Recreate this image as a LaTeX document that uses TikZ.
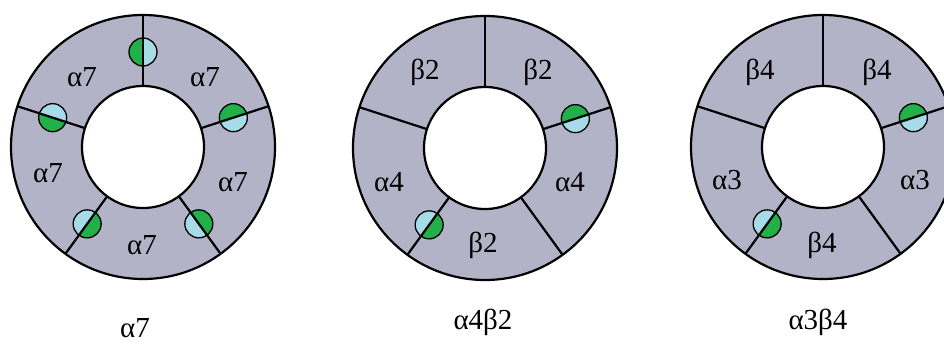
\documentclass[tikz,border=0pt]{standalone}
\usepackage{fontspec}
\setmainfont{Liberation Serif}
\usetikzlibrary{calc}

\definecolor{subunitgray}{RGB}{179,179,199}
\definecolor{sitegreen}{RGB}{34,176,74}
\definecolor{siteblue}{RGB}{166,220,232}

% binding site on the interface at angle #2 of the ring centred at #1
\newcommand{\bindsite}[2]{%
  \coordinate (S) at ($(#1)+(#2:95)$);
  \fill[sitegreen] ($(S)+(#2:14)$) arc[start angle=#2,delta angle=180,radius=14] -- cycle;
  \fill[siteblue] ($(S)+(#2:14)$) arc[start angle=#2,delta angle=-180,radius=14] -- cycle;
  \draw[line width=1.3pt] (S) circle (14);
}

\begin{document}
\begin{tikzpicture}[x=1pt,y=1pt,
  border/.style={draw=black,line width=2.2pt},
  sub/.style={font=\fontsize{29}{32}\selectfont,inner sep=0pt}]
	\useasboundingbox (0,0) rectangle (944,-343);
	\clip (0,0) rectangle (944,-343);

	\coordinate (R1) at (143,-147);
	\coordinate (R2) at (485,-148);
	\coordinate (R3) at (823,-147);

	% the five subunits of each receptor
	\foreach \c in {R1,R2,R3}
		\fill[subunitgray,even odd rule] (\c) circle (132) (\c) circle (61);

	\foreach \a in {18,90,162,234,306}
		\bindsite{R1}{\a};
	\foreach \c in {R2,R3}
	{
		\bindsite{\c}{18};
		\bindsite{\c}{234};
	}

	\foreach \c in {R1,R2,R3}
	{
		\draw[border] (\c) circle (132);
		\draw[border] (\c) circle (61);
		\foreach \a in {18,90,162,234,306}
			\draw[border] ($(\c)+(\a:61)$) -- ($(\c)+(\a:132)$);
	}

	% alpha7
	\node[sub] (a7nw) at (82,-77) {α7};
	\node[sub] (a7ne) at (205,-77) {α7};
	\node[sub] (a7w) at (48,-173) {α7};
	\node[sub] (a7e) at (233,-182) {α7};
	\node[sub] (a7s) at (142,-245) {α7};

	% alpha4beta2
	\node[sub] (b2nw) at (425,-72) {β2};
	\node[sub] (b2ne) at (538,-72) {β2};
	\node[sub] (a4w) at (389,-182) {α4};
	\node[sub] (a4e) at (570,-182) {α4};
	\node[sub] (b2s) at (483,-245) {β2};

	% alpha3beta4
	\node[sub] (b4nw) at (760,-72) {β4};
	\node[sub] (b4ne) at (877,-72) {β4};
	\node[sub] (a3w) at (727,-180) {α3};
	\node[sub] (a3e) at (915,-180) {α3};
	\node[sub] (b4s) at (822,-245) {β4};

	\node[sub] (n1) at (135,-328) {α7};
	\node[sub] (n2) at (483,-322) {α4β2};
	\node[sub] (n3) at (818,-322) {α3β4};
\end{tikzpicture}
\end{document}
